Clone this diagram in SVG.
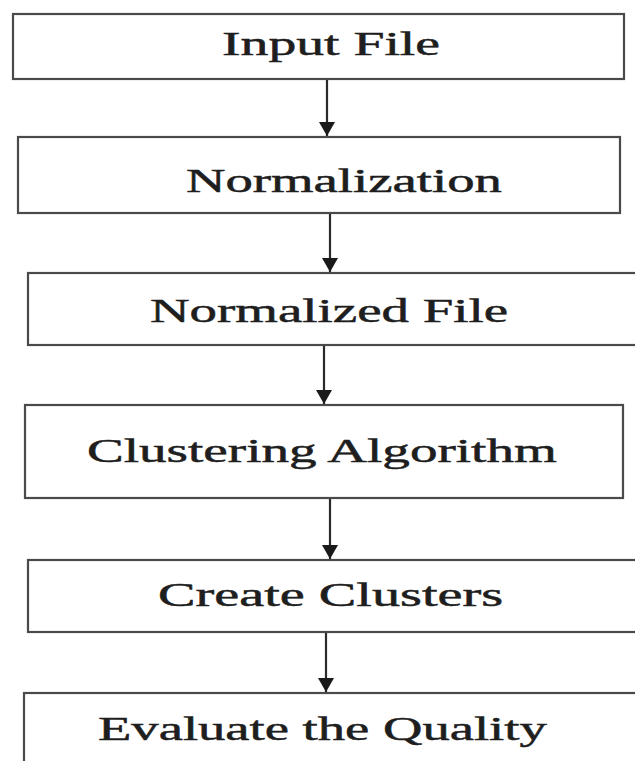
<svg xmlns="http://www.w3.org/2000/svg" width="635" height="761" viewBox="0 0 635 761">
<defs>
<style>
.box{fill:#fff;stroke:#4a4a4a;stroke-width:2.2}
.lbl{font-family:"Liberation Serif","Times New Roman",serif;font-size:34px;fill:#1e1e1e;stroke:#1e1e1e;stroke-width:0.5}
.edge{stroke:#2a2a2a;stroke-width:2.2;fill:none}
</style>
<marker id="arr" markerUnits="userSpaceOnUse" markerWidth="18" markerHeight="18" refX="14" refY="8" orient="auto">
<path d="M0,0 L14,8 L0,16 Z" fill="#1a1a1a"/>
</marker>
</defs>
<rect width="635" height="761" fill="#fff"/>
<g id="n1"><rect class="box" x="13" y="14" width="611" height="65"/><text class="lbl" transform="translate(222,55) scale(1.62,1)" x="0" y="0" textLength="134.6" lengthAdjust="spacingAndGlyphs">Input File</text></g>
<g id="n2"><rect class="box" x="18" y="137" width="602" height="76"/><text class="lbl" transform="translate(186,192) scale(1.62,1)" x="0" y="0" textLength="195" lengthAdjust="spacingAndGlyphs">Normalization</text></g>
<g id="n3"><rect class="box" x="28" y="273" width="620" height="72"/><text class="lbl" transform="translate(150,322) scale(1.62,1)" x="0" y="0" textLength="221" lengthAdjust="spacingAndGlyphs">Normalized File</text></g>
<g id="n4"><rect class="box" x="25" y="405" width="598" height="93"/><text class="lbl" transform="translate(87,462) scale(1.62,1)" x="0" y="0" textLength="290" lengthAdjust="spacingAndGlyphs">Clustering Algorithm</text></g>
<g id="n5"><rect class="box" x="28" y="560" width="620" height="72"/><text class="lbl" transform="translate(158,606) scale(1.62,1)" x="0" y="0" textLength="213" lengthAdjust="spacingAndGlyphs">Create Clusters</text></g>
<g id="n6"><rect class="box" x="24" y="693" width="624" height="90"/><text class="lbl" transform="translate(98,740) scale(1.62,1)" x="0" y="0" textLength="277" lengthAdjust="spacingAndGlyphs">Evaluate the Quality</text></g>
<g id="edges">
<line class="edge" x1="327" y1="80" x2="327" y2="136" marker-end="url(#arr)"/>
<line class="edge" x1="330" y1="214" x2="330" y2="272" marker-end="url(#arr)"/>
<line class="edge" x1="324" y1="346" x2="324" y2="404" marker-end="url(#arr)"/>
<line class="edge" x1="330" y1="499" x2="330" y2="559" marker-end="url(#arr)"/>
<line class="edge" x1="326" y1="633" x2="326" y2="692" marker-end="url(#arr)"/>
</g>
</svg>
